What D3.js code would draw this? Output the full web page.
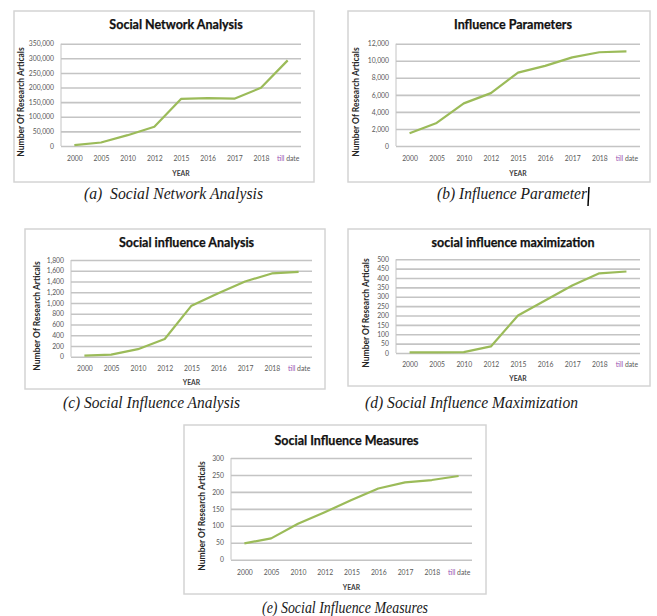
<!DOCTYPE html>
<html>
<head>
<meta charset="utf-8">
<script src="https://cdn.jsdelivr.net/npm/d3@7"></script>
<style>
  html, body { margin: 0; padding: 0; background: #fff; }
  svg { display: block; }
</style>
</head>
<body>
<svg id="chart" width="657" height="616"></svg>
<script>
// Categories shared by every panel
const years = ["2000", "2005", "2010", "2012", "2015", "2016", "2017", "2018", "till date"];

// Number of research articles per year, one array per topic
const networkAnalysis       = [3000, 12000, 37000, 66000, 161000, 164000, 162000, 199000, 293000];
const influenceParameters   = [1500, 2700, 5000, 6200, 8600, 9400, 10400, 11000, 11100];
const influenceAnalysis     = [20, 40, 140, 330, 950, 1180, 1400, 1550, 1580];
const influenceMaximization = [3, 3, 5, 35, 200, 280, 360, 425, 435];
const influenceMeasures     = [48, 63, 106, 140, 176, 210, 228, 235, 247];

// Y-axis tick labels for each panel
const ticksA = [0, 50000, 100000, 150000, 200000, 250000, 300000, 350000];
const ticksB = [0, 2000, 4000, 6000, 8000, 10000, 12000];
const ticksC = [0, 200, 400, 600, 800, 1000, 1200, 1400, 1600, 1800];
const ticksD = [0, 50, 100, 150, 200, 250, 300, 350, 400, 450, 500];
const ticksE = [0, 50, 100, 150, 200, 250, 300];

// Text
const titles = ["Social Network Analysis", "Influence Parameters", "Social influence Analysis",
                "social influence maximization", "Social Influence Measures"];
const captions = ["(a)  Social Network Analysis", "(b) Influence Parameter", "(c) Social Influence Analysis",
                  "(d) Social Influence Maximization", "(e) Social Influence Measures"];
const yAxisTitle = "Number Of Research Articals";
const xAxisTitle = "YEAR";

// Layout of each panel: frame, plot area, label rows, caption placement
const panels = [
  { values: networkAnalysis, ticks: ticksA, title: titles[0], caption: captions[0],
    box: [14, 11, 314, 182], plot: [61, 43.7, 301, 146], titleY: 25, xLabY: 159, yearY: 174,
    yTitle: [21, 102], cap: [84, 179], capY: 193 },
  { values: influenceParameters, ticks: ticksB, title: titles[1], caption: captions[1],
    box: [348, 11, 650, 182], plot: [396, 43.7, 640, 146], titleY: 25, xLabY: 159, yearY: 174,
    yTitle: [356, 102], cap: [437, 150], capY: 193, cursor: true },
  { values: influenceAnalysis, ticks: ticksC, title: titles[2], caption: captions[2],
    box: [25, 229, 325, 389], plot: [71, 260, 312, 356.7], titleY: 243, xLabY: 369, yearY: 383,
    yTitle: [37, 316], cap: [63, 177], capY: 402 },
  { values: influenceMaximization, ticks: ticksD, title: titles[3], caption: captions[3],
    box: [348, 229, 650, 386], plot: [396, 259.3, 640, 353], titleY: 243, xLabY: 365, yearY: 379,
    yTitle: [366, 313], cap: [365, 213], capY: 402 },
  { values: influenceMeasures, ticks: ticksE, title: titles[4], caption: captions[4],
    box: [184, 425, 486, 594], plot: [231, 458, 472, 559.7], titleY: 441, xLabY: 573, yearY: 588,
    yTitle: [202, 516], cap: [262, 166], capY: 607 }
];

const svg = d3.select("#chart");
const lineColor = "#9bbb59";
const gridColor = "#c4c4c4";
const labelColor = "#595959";

panels.forEach(p => {
  const g = svg.append("g");
  const [bx0, by0, bx1, by1] = p.box;
  const [px0, py0, px1, py1] = p.plot;

  // Chart frame
  g.append("rect")
    .attr("x", bx0).attr("y", by0)
    .attr("width", bx1 - bx0).attr("height", by1 - by0)
    .attr("fill", "#fff").attr("stroke", "#d4d4d4").attr("stroke-width", 1.5);

  const x = d3.scalePoint().domain(years).range([px0, px1]).padding(0.5);
  const y = d3.scaleLinear().domain([0, d3.max(p.ticks)]).range([py1, py0]);

  // Horizontal gridlines with value labels
  const yAxis = g.append("g")
    .attr("transform", `translate(${px0},0)`)
    .call(d3.axisLeft(y).tickValues(p.ticks).tickFormat(d3.format(",")).tickSize(-(px1 - px0)).tickPadding(7));
  yAxis.select(".domain").remove();
  yAxis.selectAll(".tick line").attr("stroke", gridColor).attr("stroke-width", 1.6);
  yAxis.selectAll(".tick text")
    .attr("fill", labelColor).attr("font-family", "Lato, sans-serif").attr("font-size", 6.8);

  // Vertical axis line
  g.append("line")
    .attr("x1", px0).attr("x2", px0).attr("y1", py0).attr("y2", py1)
    .attr("stroke", gridColor).attr("stroke-width", 1);

  // Category labels
  const xAxis = g.append("g")
    .attr("transform", `translate(0,${p.xLabY})`)
    .call(d3.axisBottom(x).tickSize(0).tickPadding(0));
  xAxis.select(".domain").remove();
  xAxis.selectAll(".tick text")
    .attr("fill", labelColor).attr("font-family", "Lato, sans-serif").attr("font-size", 6.8)
    .attr("dy", "0.32em")
    .each(function(d) {
      if (d === "till date") {
        const t = d3.select(this).text(null);
        t.append("tspan").attr("fill", "#9a4fb0").text("till");
        t.append("tspan").text(" date");
      }
    });

  // Data line
  const line = d3.line()
    .x((d, i) => x(years[i]))
    .y(d => y(d));
  g.append("path")
    .datum(p.values)
    .attr("d", line)
    .attr("fill", "none")
    .attr("stroke", lineColor)
    .attr("stroke-width", 2.2)
    .attr("stroke-linejoin", "round");

  // Chart title
  g.append("text")
    .attr("x", (px0 + px1) / 2 - 5).attr("y", p.titleY)
    .attr("dy", "0.35em")
    .attr("text-anchor", "middle")
    .attr("font-family", "Lato, sans-serif").attr("font-weight", "bold").attr("font-size", 12.5)
    .attr("fill", "#111")
    .attr("stroke", "#111").attr("stroke-width", 0.25)
    .text(p.title);

  // Axis titles
  g.append("text")
    .attr("transform", `translate(${p.yTitle[0]},${p.yTitle[1]}) rotate(-90)`)
    .attr("dy", "0.35em")
    .attr("text-anchor", "middle")
    .attr("font-family", "Lato, sans-serif").attr("font-weight", "bold").attr("font-size", 8.5)
    .attr("fill", "#262626")
    .text(yAxisTitle);
  g.append("text")
    .attr("x", (px0 + px1) / 2).attr("y", p.yearY)
    .attr("dy", "0.35em")
    .attr("text-anchor", "middle")
    .attr("font-family", "Lato, sans-serif").attr("font-weight", "bold").attr("font-size", 6.8)
    .attr("fill", "#404040")
    .text(xAxisTitle);

  // Caption below the frame
  svg.append("text")
    .attr("x", p.cap[0]).attr("y", p.capY)
    .attr("dy", "0.35em")
    .attr("textLength", p.cap[1]).attr("lengthAdjust", "spacingAndGlyphs")
    .attr("font-family", "'Liberation Serif', serif").attr("font-style", "italic").attr("font-size", 16.5)
    .attr("fill", "#1a1a1a")
    .style("white-space", "pre")
    .text(p.caption);

  // Text cursor left after the second caption
  if (p.cursor) {
    const cx = p.cap[0] + p.cap[1] + 1;
    svg.append("line")
      .attr("x1", cx + 1).attr("x2", cx)
      .attr("y1", p.capY - 6).attr("y2", p.capY + 13)
      .attr("stroke", "#000").attr("stroke-width", 1.5);
  }
});
</script>
</body>
</html>
